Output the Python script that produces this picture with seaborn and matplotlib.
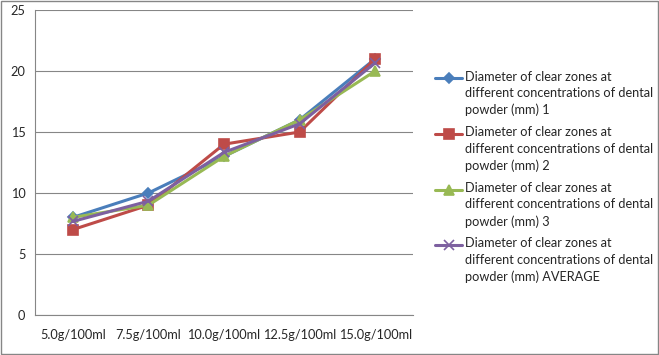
import matplotlib
matplotlib.use("Agg")
import matplotlib.pyplot as plt
from matplotlib.legend_handler import HandlerLine2D
import seaborn as sns
import pandas as pd

# data
concentrations = ['5.0g/100ml', '7.5g/100ml', '10.0g/100ml', '12.5g/100ml', '15.0g/100ml']
zone_1 = [8, 10, 13, 16, 21]
zone_2 = [7, 9, 14, 15, 21]
zone_3 = [8, 9, 13, 16, 20]
zone_avg = [7.67, 9.33, 13.33, 15.67, 20.67]

base = 'Diameter of clear zones at\ndifferent concentrations of dental\npowder (mm) '
names = [base + '1', base + '2', base + '3', base + 'AVERAGE']

sns.set_style('white')
plt.rcParams['font.family'] = ['Lato', 'DejaVu Sans']

colors = ['#4A7EBB', '#BE4B48', '#98B954', '#7D60A0']
markers = ['D', 's', '^', 'x']
sizes = [5.5, 7.5, 7.5, 6.5]
fs = 9.2


# legend handle sits next to the first text line, like Excel does
class TopHandler(HandlerLine2D):
    def create_artists(self, legend, orig_handle, xdescent, ydescent, width, height, fontsize, trans):
        arts = super().create_artists(legend, orig_handle, xdescent, ydescent, width, height, fontsize, trans)
        for a in arts:
            a.set_ydata([y + fontsize * 1.22 for y in a.get_ydata()])
        return arts


fig = plt.figure(figsize=(6.59, 3.55), dpi=100)
ax = fig.add_axes([35/659, 40/355, 378/659, 305/355])

handles = []
for name, vals, c, m, ms in zip(names, [zone_1, zone_2, zone_3, zone_avg], colors, markers, sizes):
    d = pd.DataFrame({'pos': range(len(vals)), 'value': vals})
    sns.lineplot(data=d, x='pos', y='value', color=c, marker=m, markersize=ms,
                 markeredgecolor=c, markeredgewidth=1.2, linewidth=2.2, ax=ax)
    handles.append(ax.lines[-1])

ax.set_xlim(-0.5, 4.5)
ax.set_ylim(0, 25)
ax.set_yticks(range(0, 26, 5))
ax.set_xticks(range(len(concentrations)))
ax.set_xticklabels(concentrations)
ax.set_xticks([i - 0.5 for i in range(len(concentrations) + 1)], minor=True)
ax.tick_params(axis='x', which='major', length=0, pad=10, labelsize=fs)
ax.tick_params(axis='x', which='minor', length=4, color='#868686', direction='out')
ax.tick_params(axis='y', length=4, color='#868686', direction='out', labelsize=fs, pad=3)
ax.yaxis.grid(True, color='#868686', linewidth=0.8)
ax.set_axisbelow(True)
ax.set_xlabel('')
ax.set_ylabel('')
for s in ['top', 'right']:
    ax.spines[s].set_visible(False)
for s in ['left', 'bottom']:
    ax.spines[s].set_color('#868686')
    ax.spines[s].set_linewidth(0.8)

leg = fig.legend(handles, names, loc='upper left', bbox_to_anchor=(424/659, 1 - 59/355),
                 frameon=False, fontsize=fs, handlelength=2.1, handletextpad=0.2,
                 labelspacing=0.75, handler_map={h: TopHandler() for h in handles})
for t in leg.get_texts():
    t.set_linespacing(1.46)

fig.patches.append(plt.Rectangle((0.001, 0.002), 0.997, 0.995, transform=fig.transFigure,
                                 fill=False, edgecolor='#868686', linewidth=1))

fig.savefig('out.png', dpi=100)
